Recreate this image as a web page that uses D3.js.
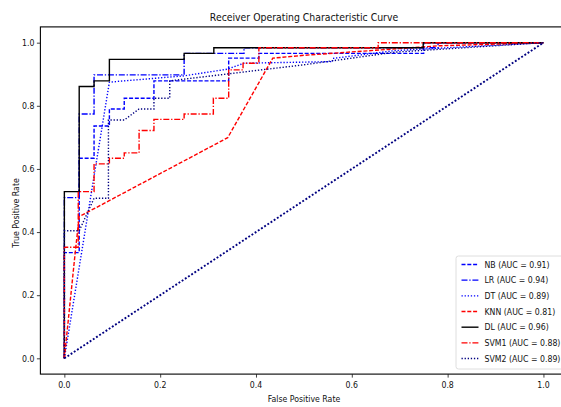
<!DOCTYPE html>
<html>
<head>
<meta charset="utf-8">
<script src="https://cdn.jsdelivr.net/npm/d3@7"></script>
<style>
  body { margin: 0; background: #fff; }
  svg { display: block; font-family: "DejaVu Sans", sans-serif; }
</style>
</head>
<body>
<svg id="chart" width="561" height="407"></svg>
<script>
// ROC points
const nbFpr = [0, 0, 0.031, 0.031, 0.062, 0.062, 0.094, 0.094, 0.125, 0.125, 0.187, 0.187, 0.343, 0.343, 0.406, 0.406, 0.75, 0.75, 1];
const nbTpr = [0, 0.335, 0.335, 0.634, 0.634, 0.736, 0.736, 0.79, 0.79, 0.824, 0.824, 0.879, 0.879, 0.951, 0.951, 0.966, 0.966, 1, 1];
const lrFpr = [0, 0, 0.031, 0.031, 0.062, 0.062, 0.25, 0.25, 0.375, 0.375, 0.78, 0.78, 1];
const lrTpr = [0, 0.509, 0.509, 0.774, 0.774, 0.898, 0.898, 0.966, 0.966, 0.984, 0.984, 1, 1];
const dtFpr = [0, 0.094, 0.25, 0.34, 0.375, 0.56, 0.56, 0.69, 1];
const dtTpr = [0, 0.875, 0.895, 0.916, 0.935, 0.94, 0.95, 0.975, 1];
const knnFpr = [0, 0.023, 0.031, 0.341, 0.435, 0.5, 0.78, 1];
const knnTpr = [0, 0.34, 0.449, 0.699, 0.951, 0.96, 0.99, 1];
const dlFpr = [0, 0, 0.031, 0.031, 0.062, 0.062, 0.094, 0.094, 0.25, 0.25, 0.312, 0.312, 0.749, 0.749, 1];
const dlTpr = [0, 0.528, 0.528, 0.861, 0.861, 0.879, 0.879, 0.947, 0.947, 0.966, 0.966, 0.984, 0.984, 1, 1];
const svm1Fpr = [0, 0, 0.029, 0.029, 0.062, 0.062, 0.094, 0.094, 0.125, 0.125, 0.156, 0.156, 0.187, 0.187, 0.25, 0.25, 0.311, 0.311, 0.343, 0.343, 0.373, 0.373, 0.406, 0.406, 0.655, 0.655, 1];
const svm1Tpr = [0, 0.352, 0.352, 0.528, 0.528, 0.616, 0.616, 0.634, 0.634, 0.651, 0.651, 0.722, 0.722, 0.757, 0.757, 0.774, 0.774, 0.824, 0.824, 0.914, 0.914, 0.935, 0.935, 0.984, 0.984, 1, 1];
const svm2Fpr = [0, 0, 0.031, 0.062, 0.092, 0.092, 0.125, 0.156, 0.187, 0.187, 0.22, 0.22, 0.5, 0.69, 1];
const svm2Tpr = [0, 0.404, 0.404, 0.507, 0.507, 0.755, 0.755, 0.79, 0.79, 0.824, 0.824, 0.879, 0.93, 0.97, 1];
const chanceFpr = [0, 1];
const chanceTpr = [0, 1];

const models = ["NB", "LR", "DT", "KNN", "DL", "SVM1", "SVM2"];
const aucs = [0.91, 0.94, 0.89, 0.81, 0.96, 0.88, 0.89];
const tickValues = [0, 0.2, 0.4, 0.6, 0.8, 1.0];

const series = [
  {fpr: nbFpr, tpr: nbTpr, color: "blue", dash: "4,1.8"},
  {fpr: lrFpr, tpr: lrTpr, color: "blue", dash: "6,1.8,1.3,1.8"},
  {fpr: dtFpr, tpr: dtTpr, color: "blue", dash: "1.3,1.8"},
  {fpr: knnFpr, tpr: knnTpr, color: "red", dash: "4,1.8"},
  {fpr: dlFpr, tpr: dlTpr, color: "black", dash: null},
  {fpr: svm1Fpr, tpr: svm1Tpr, color: "red", dash: "6,1.8,1.3,1.8"},
  {fpr: svm2Fpr, tpr: svm2Tpr, color: "navy", dash: "1.3,1.8"}
];

const sx = 0.85; // text in the picture is horizontally squeezed
const svg = d3.select("#chart");
const x = d3.scaleLinear([-0.05, 1.05], [40.4, 567.4]);
const y = d3.scaleLinear([-0.05, 1.05], [374.1, 26.9]);

const line = d3.line().x(d => x(d[0])).y(d => y(d[1]));

const squeezedText = (g, tx, ty, txt, size, anchor, rot) => g.append("text")
    .attr("transform", `translate(${tx},${ty})${rot ? ` rotate(${rot})` : ""} scale(${sx},1)`)
    .attr("text-anchor", anchor)
    .attr("font-size", size)
    .attr("fill", "#111")
    .text(txt);

// curves
const plot = svg.append("g");
series.forEach(s => {
  plot.append("path")
      .attr("d", line(d3.zip(s.fpr, s.tpr)))
      .attr("fill", "none")
      .attr("stroke", s.color)
      .attr("stroke-width", 1.4)
      .attr("stroke-dasharray", s.dash);
});
plot.append("path")
    .attr("d", line(d3.zip(chanceFpr, chanceTpr)))
    .attr("fill", "none")
    .attr("stroke", "navy")
    .attr("stroke-width", 1.9)
    .attr("stroke-dasharray", "1.9,1.9");

// frame
svg.append("rect")
    .attr("x", x(-0.05)).attr("y", y(1.05))
    .attr("width", x(1.05) - x(-0.05)).attr("height", y(-0.05) - y(1.05))
    .attr("fill", "none").attr("stroke", "black").attr("stroke-width", 1.1);

// axes
svg.append("g")
    .attr("transform", `translate(0,${y(-0.05)})`)
    .call(d3.axisBottom(x).tickValues(tickValues).tickSize(3.5).tickFormat(""))
    .call(g => g.select(".domain").remove())
    .call(g => g.selectAll(".tick line").attr("stroke", "#111").attr("stroke-width", 0.8));
tickValues.forEach(v => squeezedText(svg, x(v), y(-0.05) + 14, d3.format(".1f")(v), 9.2, "middle"));

svg.append("g")
    .attr("transform", `translate(${x(-0.05)},0)`)
    .call(d3.axisLeft(y).tickValues(tickValues).tickSize(3.5).tickFormat(""))
    .call(g => g.select(".domain").remove())
    .call(g => g.selectAll(".tick line").attr("stroke", "#111").attr("stroke-width", 0.8));
tickValues.forEach(v => squeezedText(svg, x(-0.05) - 6, y(v) + 3.3, d3.format(".1f")(v), 9.2, "end"));

squeezedText(svg, 304, 20.5, "Receiver Operating Characteristic Curve", 11, "middle");
squeezedText(svg, 304, 402, "False Positive Rate", 9.2, "middle");
squeezedText(svg, 19, 213, "True Positive Rate", 9.2, "middle", -90);

// legend
const lg = svg.append("g").attr("transform", "translate(456,256)");
lg.append("rect")
    .attr("width", 120).attr("height", 113).attr("rx", 2.5)
    .attr("fill", "white").attr("fill-opacity", 0.8)
    .attr("stroke", "#d6d6d6").attr("stroke-width", 0.8);
models.forEach((m, i) => {
  const s = series[i];
  const row = 8.5 + i * 15.67;
  lg.append("line")
      .attr("x1", 5.5).attr("x2", 22.5).attr("y1", row).attr("y2", row)
      .attr("stroke", s.color).attr("stroke-width", 1.4)
      .attr("stroke-dasharray", s.dash);
  squeezedText(lg, 28.5, row + 3.3, `${m} (AUC = ${aucs[i].toFixed(2)})`, 9.2, "start");
});
</script>
</body>
</html>
